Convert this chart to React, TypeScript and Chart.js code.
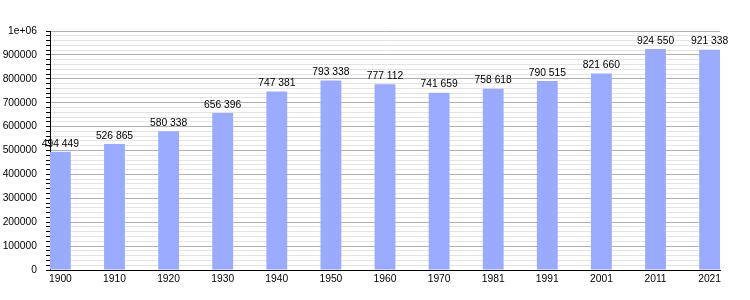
import React, { useEffect, useRef } from "react";
import { Chart, registerables } from "chart.js";

Chart.register(...registerables);

const years = ["1900", "1910", "1920", "1930", "1940", "1950", "1960", "1970", "1981", "1991", "2001", "2011", "2021"];
const population = [494449, 526865, 580338, 656396, 747381, 793338, 777112, 741659, 758618, 790515, 821660, 924550, 921338];

const fmt = (v: number) => String(v).replace(/\B(?=(\d{3})+(?!\d))/g, " ");
const FONT = "'Liberation Sans', Arial, sans-serif";

const labelPlugin = {
  id: "barLabels",
  afterDatasetsDraw(chart: any) {
    const ctx = chart.ctx;
    const meta = chart.getDatasetMeta(0);
    ctx.save();
    ctx.font = "10.3px " + FONT;
    ctx.fillStyle = "#000";
    ctx.textAlign = "center";
    ctx.textBaseline = "bottom";
    meta.data.forEach((el: any, i: number) => {
      ctx.fillText(fmt(population[i]), el.x, el.y - 3);
    });
    ctx.restore();
  },
};

export default function App() {
  const ref = useRef<HTMLCanvasElement>(null);
  useEffect(() => {
    document.body.style.margin = "0";
    const chart = new Chart(ref.current!, {
      type: "bar",
      data: {
        datasets: [
          {
            data: population.map((v, i) => ({ x: i, y: v })),
            backgroundColor: "#99aaff",
            borderWidth: 0,
            barPercentage: 0.385,
            categoryPercentage: 1,
          },
        ],
      },
      options: {
        animation: false,
        responsive: false,
        layout: { padding: { left: 0, right: 30, top: 31, bottom: 0 } },
        plugins: { legend: { display: false }, tooltip: { enabled: false } },
        scales: {
          x: {
            type: "linear",
            offset: false,
            min: -0.192,
            max: 12.192,
            grid: { display: false, drawTicks: false },
            border: { color: "#000", width: 1 },
            afterBuildTicks: (scale: any) => {
              scale.ticks = years.map((_, i) => ({ value: i }));
            },
            ticks: {
              autoSkip: false,
              maxRotation: 0,
              padding: 3,
              color: "#000",
              font: { family: FONT, size: 10.3 },
              callback: (v: any) => years[Math.round(Number(v))] ?? "",
            },
            afterFit: (scale: any) => {
              scale.height = 30;
              scale.paddingLeft = 0;
              scale.paddingRight = 0;
            },
          },
          y: {
            min: 0,
            max: 1000000,
            border: { color: "#000", width: 1 },
            grid: {
              color: (c: any) => (c.tick && c.tick.value % 100000 === 0 ? "#b0b0b0" : "#e4e4e4"),
              tickColor: "#000",
              tickLength: 4,
              lineWidth: 1,
            },
            ticks: {
              stepSize: 20000,
              autoSkip: false,
              padding: 9,
              color: "#000",
              font: { family: FONT, size: 10.3 },
              callback: (v: any) => {
                const n = Number(v);
                if (n % 100000 !== 0) return "";
                if (n === 1000000) return "1e+06";
                return String(n);
              },
            },
            afterFit: (scale: any) => {
              scale.width = 50;
              scale.paddingTop = 0;
              scale.paddingBottom = 0;
            },
          },
        },
      },
      plugins: [labelPlugin],
    } as any);
    return () => chart.destroy();
  }, []);
  return (
    <div style={{ width: 750, height: 300 }}>
      <canvas ref={ref} width={750} height={300} style={{ display: "block" }} />
    </div>
  );
}
